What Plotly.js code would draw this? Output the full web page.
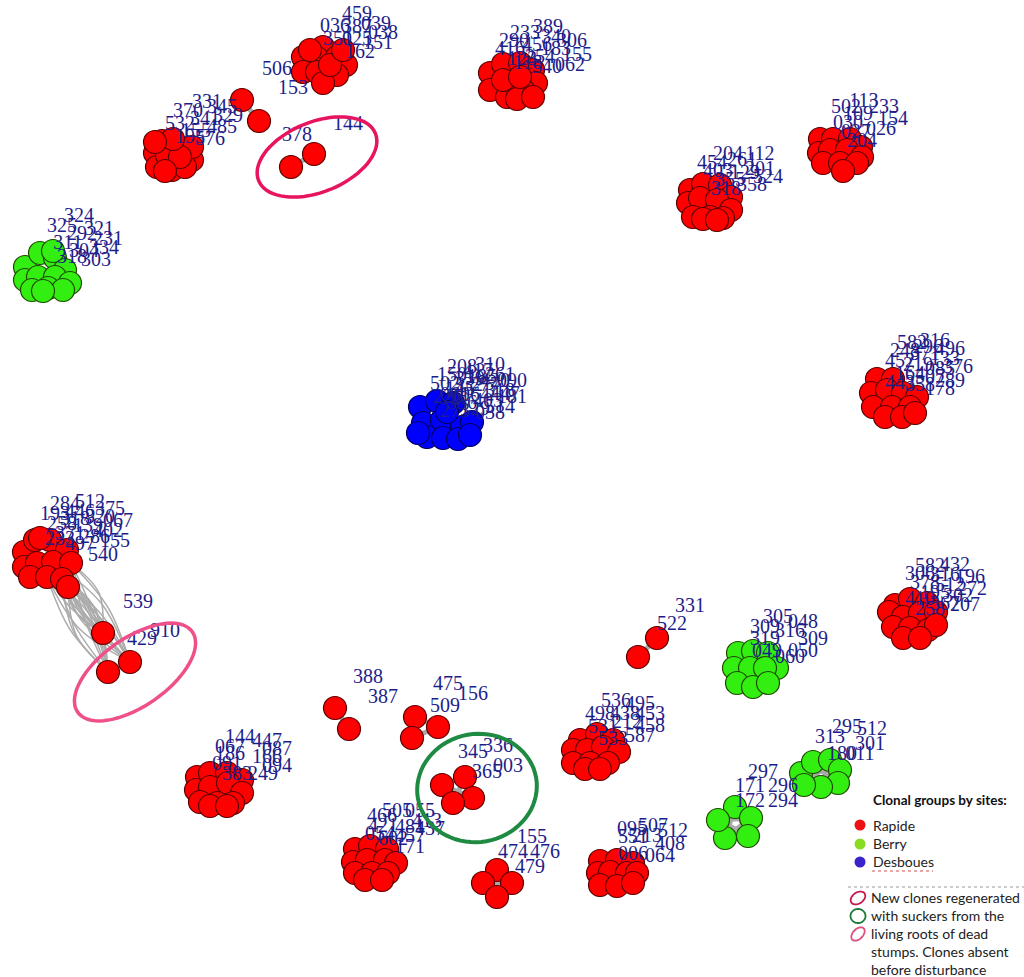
<!DOCTYPE html>
<html><head><meta charset="utf-8">
<script src="https://cdn.plot.ly/plotly-3.0.1.min.js"></script>
<style>html,body{margin:0;padding:0;background:#fff}#chart{width:1024px;height:977px}</style>
</head><body><div id="chart"></div>
<script>
// ---- Node layout positions (layout units = pixels) ----
// Rapide clones
const rA = [[303,57],[323,47],[317,58],[337,57],[346,65],[303,72],[317,72],[337,75],[323,83],[330,65],[310,50],[343,50]];
const rB = [[155,153],[162,141],[177,147],[192,160],[157,167],[172,170],[185,167],[192,147],[167,155],[180,157],[173,139],[155,142],[165,171]];
const rPair1 = [[242,100],[259,121]];
const rPair2 = [[291,167],[314,154]];
const rC = [[490,73],[503,64],[520,63],[533,70],[536,83],[490,90],[507,97],[523,90],[517,99],[533,97],[503,80],[520,77]];
const rD = [[690,190],[703,184],[720,185],[731,197],[688,203],[700,198],[717,200],[731,210],[693,217],[710,217],[723,218],[703,219],[717,220]];
const rE = [[820,139],[833,139],[850,139],[861,147],[819,153],[830,150],[847,150],[862,157],[823,163],[840,163],[857,163],[843,171]];
const rH = [[877,379],[893,379],[871,393],[887,390],[903,393],[917,397],[873,407],[892,407],[910,407],[885,417],[902,417],[915,413]];
const rI = [[24,552],[35,540],[50,540],[67,550],[24,567],[37,563],[53,562],[71,563],[30,577],[47,577],[62,579],[40,538]];
const rChain = [[68,587],[103,633],[108,672],[130,662]];
const rJ = [[895,605],[910,599],[927,603],[889,612],[903,617],[920,613],[936,612],[893,627],[910,628],[928,630],[936,625],[903,638],[920,638]];
const rPair3 = [[638,657],[657,638]];
const rPair4 = [[335,708],[349,729]];
const rTri = [[415,717],[438,727],[412,738]];
const rL = [[580,740],[597,734],[613,740],[573,750],[587,750],[603,747],[619,752],[573,763],[590,763],[608,763],[585,769],[600,769]];
const rQuad2 = [[442,785],[465,777],[473,798],[453,803]];
const rM = [[197,777],[210,773],[227,773],[242,780],[196,790],[210,787],[228,783],[242,793],[200,802],[217,803],[233,803],[210,806],[227,806]];
const rP = [[355,849],[370,846],[387,849],[353,862],[367,860],[385,860],[396,863],[355,873],[372,873],[388,873],[365,880],[382,880]];
const rQuad3 = [[497,870],[512,883],[483,883],[497,897]];
const rR = [[600,861],[617,860],[633,863],[598,873],[610,872],[627,873],[637,873],[600,885],[617,886],[633,883]];
// Berry clones
const gF = [[25,267],[40,253],[55,258],[65,270],[25,280],[38,277],[55,277],[70,283],[32,290],[48,288],[63,290],[43,291],[53,251]];
const gK = [[738,653],[753,651],[768,653],[777,668],[734,668],[750,668],[765,668],[737,683],[753,687],[768,683]];
const gN = [[801,773],[813,762],[830,760],[840,770],[838,783],[821,787],[804,785]];
const gO = [[735,807],[751,818],[748,836],[725,838],[718,820]];
// Desboues clones
const bG = [[420,407],[437,401],[453,403],[423,423],[442,420],[462,427],[472,422],[427,437],[443,438],[458,439],[470,435],[447,412],[418,433]];

const rapideGroups = [rA,rB,rPair1,rPair2,rC,rD,rE,rH,rI,rChain,rJ,rPair3,rPair4,rTri,rL,rQuad2,rM,rP,rQuad3,rR];
const berryGroups = [gF,gK,gN,gO];
const desbouesGroups = [bG];
const linkedGroups = [rPair1,rPair2,rPair3,rPair4,rTri,rQuad2,rQuad3,gN,gO];

// ---- Vertex labels ----
const labA = [["459",357,15],["036",335,27],["039",376,25],["387",357,28],["038",383,34],["351",338,40],["025",357,40],["151",378,44],["162",360,53],["506",277,70],["153",293,89]];
const labB = [["331",207,103],["345",222,108],["370",188,112],["329",228,117],["341",205,120],["532",180,125],["485",222,128],["155",196,132],["576",210,140],["195",190,138]];
const labPair2 = [["378",297,136],["144",348,125]];
const labC = [["389",548,28],["233",525,34],["306",572,42],["340",556,38],["290",514,42],["456",537,46],["416",510,50],["183",556,50],["155",577,56],["254",540,58],["123",522,60],["062",570,66],["540",547,68],["118",528,64]];
const labD = [["204",728,155],["112",760,155],["261",742,161],["454",712,164],["201",760,170],["403",718,172],["129",745,174],["524",768,178],["355",730,181],["358",752,186],["318",726,190]];
const labE = [["502",846,108],["113",864,102],["233",884,108],["109",858,115],["154",893,120],["030",848,124],["026",881,130],["027",856,133],["204",862,142]];
const labF = [["324",79,217],["325",62,227],["321",99,230],["292",82,235],["231",108,240],["311",68,244],["334",104,249],["304",84,252],["303",96,261],["318",72,258]];
const labG = [["208",462,368],["310",490,366],["417",478,372],["150",452,376],["261",500,376],["339",470,380],["090",512,382],["502",445,385],["277",485,386],["145",460,390],["318",500,392],["064",475,396],["226",448,398],["181",512,398],["403",488,402],["356",462,404],["514",500,408],["129",475,410],["273",455,412],["038",490,414],["447",505,395],["332",468,386],["185",482,378],["420",495,382],["061",455,396]];
const labH = [["582",912,344],["316",935,342],["496",950,350],["248",905,352],["371",925,355],["133",945,360],["452",900,362],["219",918,366],["085",940,370],["376",958,368],["164",910,375],["507",930,378],["289",950,382],["358",920,386],["178",940,390],["443",900,384],["296",928,348]];
const labI = [["284",65,505],["512",90,503],["375",110,510],["193",55,515],["446",80,513],["320",100,518],["067",118,522],["258",62,525],["139",88,527],["402",108,532],["371",70,535],["286",95,538],["155",115,542],["497",80,545],["233",60,540],["540",103,556],["318",75,520]];
const labChain = [["539",138,603],["910",165,632],["429",142,640]];
const labJ = [["582",930,567],["432",955,566],["306",920,575],["316",945,576],["196",970,578],["378",925,584],["512",950,586],["272",972,590],["195",935,594],["302",958,597],["410",920,600],["367",945,605],["207",965,606],["258",930,610]];
const labPair3 = [["331",690,607],["522",672,625]];
const labK = [["305",778,618],["048",803,623],["309",765,628],["316",790,632],["309",813,640],["319",765,640],["049",767,652],["050",803,652],["060",790,658]];
const labPair4 = [["388",368,678],["387",383,698]];
const labTri = [["475",448,685],["156",473,695],["509",445,707]];
const labL = [["536",616,702],["495",640,705],["498",600,715],["453",650,715],["438",625,715],["531",603,728],["212",627,723],["458",650,727],["533",613,740],["587",640,737]];
const labQuad2 = [["345",473,753],["336",498,747],["365",487,773],["003",508,767]];
const labM = [["144",240,738],["447",267,742],["067",230,748],["087",277,750],["186",230,755],["166",267,758],["091",227,765],["094",277,767],["383",237,775],["249",263,775]];
const labN = [["295",847,728],["512",872,730],["313",830,738],["301",870,745],["180",842,755],["011",860,755]];
const labO = [["297",763,773],["171",750,787],["296",783,787],["172",750,802],["294",783,802]];
const labP = [["505",397,812],["055",420,812],["466",382,817],["413",427,822],["421",383,827],["481",410,828],["437",430,830],["054",380,835],["457",410,837],["602",393,840],["171",410,848]];
const labQuad3 = [["155",532,838],["474",513,853],["476",545,853],["479",530,868]];
const labR = [["095",632,830],["507",653,827],["512",673,832],["551",633,838],["213",647,837],["408",670,845],["006",633,855],["064",660,857]];
const labelGroups = [labA,labB,labPair2,labC,labD,labE,labF,labG,labH,labI,labChain,labJ,labPair3,labK,labPair4,labTri,labL,labQuad2,labM,labN,labO,labP,labQuad3,labR];

// ---- Legend text ----
const legendTitle = "Clonal groups by sites:";
const siteNames = ["Rapide","Berry","Desboues"];
const siteColors = ["#ff0000","#33ee11","#0000ff"];
const noteLines = ["New clones regenerated","with suckers from the","living roots of dead","stumps. Clones absent","before disturbance"];

// ---- Build traces ----
function flatten(groups){const x=[],y=[];groups.forEach(g=>g.forEach(p=>{x.push(p[0]);y.push(p[1]);}));return {x,y};}
const ex=[],ey=[];
linkedGroups.forEach(g=>{for(let i=0;i<g.length;i++)for(let j=i+1;j<g.length;j++){ex.push(g[i][0],g[j][0],null);ey.push(g[i][1],g[j][1],null);}});
// curved multi-edges from cluster I to its offshoots
const bx=[],by=[];
const bundleFrom=[rI[9],rI[10],rI[7],rI[6],rChain[0]];
const bundleTo=[rChain[1],rChain[2],rChain[3]];
bundleFrom.forEach((a,ia)=>bundleTo.forEach((b,ib)=>{
  for(let s=-1;s<=1;s+=2){
    const dx=b[0]-a[0], dy=b[1]-a[1], L=Math.hypot(dx,dy);
    const off=s*(5+((ia+ib)%3)*4);
    const mx=(a[0]+b[0])/2-dy/L*off, my=(a[1]+b[1])/2+dx/L*off;
    bx.push(a[0],mx,b[0],null);by.push(a[1],my,b[1],null);
  }}));
bx.push(rChain[1][0],rChain[2][0],null,rChain[1][0],rChain[3][0],null);
by.push(rChain[1][1],rChain[2][1],null,rChain[1][1],rChain[3][1],null);

const traces=[];
traces.push({x:bx,y:by,mode:'lines',line:{color:'#acacac',width:1.5,shape:'spline'},hoverinfo:'skip',showlegend:false});
traces.push({x:ex,y:ey,mode:'lines',line:{color:'#a9a9a9',width:5},hoverinfo:'skip',showlegend:false});
const outline=['#5a0000','#1f4a00','#00005a'];
[rapideGroups,berryGroups,desbouesGroups].forEach((gs,k)=>{
  const f=flatten(gs);
  traces.push({x:f.x,y:f.y,mode:'markers',marker:{size:23,color:siteColors[k],line:{color:outline[k],width:1.2}},hoverinfo:'skip',showlegend:false});
});
const lt=[],lx=[],ly=[];
labelGroups.forEach(g=>g.forEach(l=>{lt.push(l[0]);lx.push(l[1]);ly.push(l[2]);}));
traces.push({x:lx,y:ly,text:lt,mode:'text',textposition:'middle center',textfont:{family:'Liberation Serif, serif',size:20,color:'#1e1e8a'},hoverinfo:'skip',showlegend:false});
// legend dots
traces.push({x:[860,860,860],y:[825,844,862],mode:'markers',marker:{size:11,color:['#ee1111','#88dd22','#3a22cc']},hoverinfo:'skip',showlegend:false});

function ellipsePath(cx,cy,rx,ry,deg){const a=deg*Math.PI/180;let p='';for(let i=0;i<=72;i++){const t=i/72*2*Math.PI;const x=cx+rx*Math.cos(t)*Math.cos(a)-ry*Math.sin(t)*Math.sin(a);const y=cy+rx*Math.cos(t)*Math.sin(a)+ry*Math.sin(t)*Math.cos(a);p+=(i?'L':'M')+x.toFixed(1)+','+y.toFixed(1);}return p+'Z';}
const shapes=[
 {type:'path',xref:'x',yref:'y',path:ellipsePath(317,157,63,35,-22),line:{color:'#e8145f',width:3.5}},
 {type:'path',xref:'x',yref:'y',path:ellipsePath(135,672,70,34,-35),line:{color:'#f0508a',width:3.5}},
 {type:'path',xref:'x',yref:'y',path:ellipsePath(477,788,60,54,-10),line:{color:'#1e8a42',width:4}},
 {type:'path',xref:'x',yref:'y',path:ellipsePath(858,898,8,5.5,-35),line:{color:'#c8184e',width:1.8}},
 {type:'path',xref:'x',yref:'y',path:ellipsePath(858,916,7.5,7,0),line:{color:'#1e7a3a',width:1.8}},
 {type:'path',xref:'x',yref:'y',path:ellipsePath(858,934,8,5,-45),line:{color:'#e0507e',width:1.8}},
 {type:'line',xref:'x',yref:'y',x0:848,x1:1024,y0:887,y1:887,line:{color:'#999',width:1,dash:'dot'}},
 {type:'line',xref:'x',yref:'y',x0:872,x1:933,y0:871,y1:871,line:{color:'#d05050',width:1,dash:'dot'}}
];
const ann=[];
ann.push({x:871,y:800,xref:'x',yref:'y',text:'<b>'+legendTitle+'</b>',showarrow:false,xanchor:'left',yanchor:'middle',font:{family:'Lato, sans-serif',size:13.5,color:'#111'}});
siteNames.forEach((s,i)=>ann.push({x:871,y:[825,843,861][i],xref:'x',yref:'y',text:s,showarrow:false,xanchor:'left',yanchor:'middle',font:{family:'Lato, sans-serif',size:14,color:'#222'}}));
noteLines.forEach((s,i)=>ann.push({x:869,y:897+i*18,xref:'x',yref:'y',text:s,showarrow:false,xanchor:'left',yanchor:'middle',font:{family:'Lato, sans-serif',size:14,color:'#222'}}));

const layout={width:1024,height:977,margin:{l:0,r:0,t:0,b:0},paper_bgcolor:'#fff',plot_bgcolor:'#fff',
 xaxis:{range:[0,1024],visible:false,fixedrange:true},
 yaxis:{range:[977,0],visible:false,fixedrange:true},
 shapes:shapes,annotations:ann,showlegend:false};
Plotly.newPlot('chart',traces,layout,{displayModeBar:false,staticPlot:true});
</script></body></html>
